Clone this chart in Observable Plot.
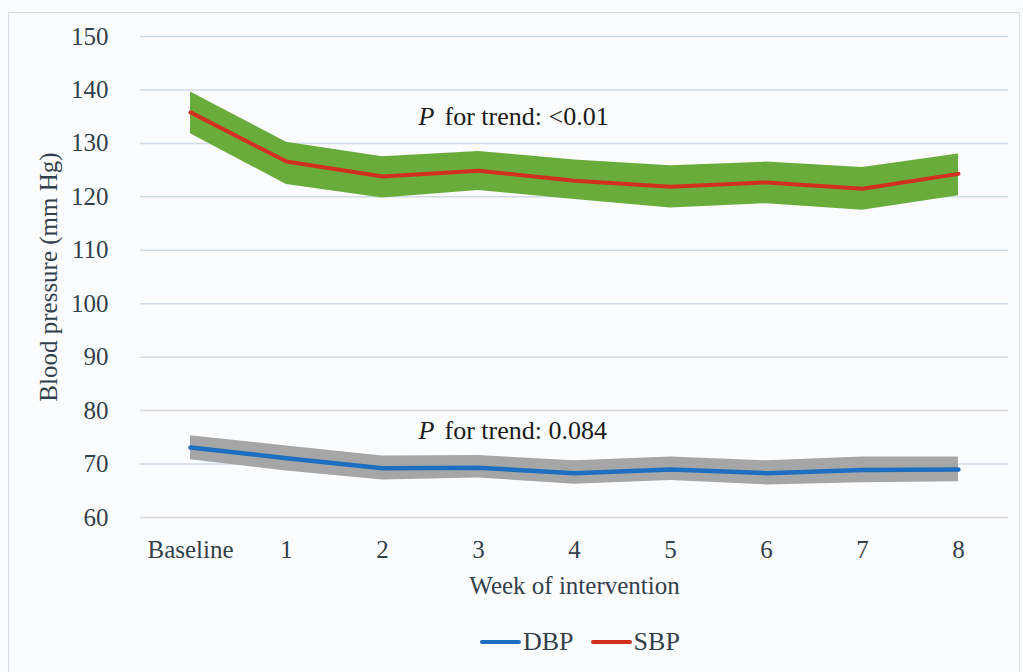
<!DOCTYPE html>
<html>
<head>
<meta charset="utf-8">
<script src="https://cdn.jsdelivr.net/npm/d3@7"></script>
<script src="https://cdn.jsdelivr.net/npm/@observablehq/plot@0.6"></script>
<style>
  html, body { margin: 0; padding: 0; background: #fbfcfe; width: 1023px; height: 672px; overflow: hidden; }
  #frame { position: absolute; left: 8px; top: 12px; width: 1012px; height: 670px; border: 1.5px solid #d4dde7; box-sizing: border-box; }
  #chart { position: absolute; left: 0; top: 0; }
  #legend { position: absolute; left: 480px; top: 627px; display: flex; align-items: center; font-family: "Liberation Serif", "Times New Roman", serif; font-size: 26px; color: #333f4a; }
  #legend .sw { display: inline-block; width: 41px; height: 4px; border-radius: 2px; margin-right: 2px; }
  #legend .item { display: flex; align-items: center; margin-right: 17px; }
</style>
</head>
<body>
<div id="frame"></div>
<div id="chart"></div>
<div id="legend"></div>
<script>
const weeks = ["Baseline", "1", "2", "3", "4", "5", "6", "7", "8"];
const sbpMean  = [135.8, 126.6, 123.8, 124.9, 123.0, 121.9, 122.7, 121.5, 124.3];
const sbpUpper = [139.6, 130.2, 127.5, 128.5, 126.9, 125.8, 126.5, 125.5, 128.0];
const sbpLower = [131.8, 122.3, 119.8, 121.2, 119.5, 117.9, 118.7, 117.5, 120.2];
const dbpMean  = [73.1, 71.1, 69.2, 69.3, 68.3, 69.0, 68.3, 68.9, 69.0];
const dbpUpper = [75.3, 73.4, 71.5, 71.6, 70.6, 71.3, 70.6, 71.3, 71.3];
const dbpLower = [70.8, 68.7, 67.0, 67.4, 66.2, 66.9, 66.1, 66.5, 66.7];
const yTicks = [60, 70, 80, 90, 100, 110, 120, 130, 140, 150];
const seriesNames = ["DBP", "SBP"];
const seriesColors = ["#1f6fc1", "#d2301f"];
const bandColors = ["#a6a6a6", "#6aac3c"];
const annotations = [
  {week: "3", y: 135.0, text: "for trend: <0.01"},
  {week: "3", y: 76.2, text: "for trend: 0.084"}
];

const sbp = weeks.map((w, i) => ({week: w, mean: sbpMean[i], lo: sbpLower[i], hi: sbpUpper[i]}));
const dbp = weeks.map((w, i) => ({week: w, mean: dbpMean[i], lo: dbpLower[i], hi: dbpUpper[i]}));

const font = "'Liberation Serif', 'Times New Roman', serif";
const textColor = "#333f4a";

const chart = Plot.plot({
  width: 1023,
  height: 612,
  marginLeft: 140,
  marginRight: 15,
  marginTop: 36,
  marginBottom: 95,
  style: {background: "transparent", fontFamily: font, fontSize: "25px", color: textColor},
  x: {type: "point", domain: weeks, padding: 0.5, label: null},
  y: {domain: [60, 150], label: null},
  marks: [
    Plot.gridY(yTicks, {stroke: "#cfdbe6", strokeOpacity: 1, strokeWidth: 1.5}),
    Plot.axisY(yTicks, {tickSize: 0, tickPadding: 32, label: null, fontSize: 25, fill: textColor, fontFamily: font}),
    Plot.axisX({tickSize: 0, tickPadding: 23, label: null, fontSize: 25, fill: textColor, fontFamily: font}),
    Plot.areaY(sbp, {x: "week", y1: "lo", y2: "hi", fill: bandColors[1], fillOpacity: 1}),
    Plot.lineY(sbp, {x: "week", y: "mean", stroke: seriesColors[1], strokeWidth: 4}),
    Plot.areaY(dbp, {x: "week", y1: "lo", y2: "hi", fill: bandColors[0], fillOpacity: 1}),
    Plot.lineY(dbp, {x: "week", y: "mean", stroke: seriesColors[0], strokeWidth: 4.5}),
    Plot.text(annotations, {x: "week", y: "y", text: () => "P", dx: -60, textAnchor: "start", fontStyle: "italic", fontSize: 26, fill: "#1a1a1a", fontFamily: font}),
    Plot.text(annotations, {x: "week", y: "y", text: "text", dx: -34, textAnchor: "start", fontSize: 26, fill: "#1a1a1a", fontFamily: font}),
    Plot.text(["Blood pressure (mm Hg)"], {frameAnchor: "left", dx: -92, rotate: -90, textAnchor: "middle", fontSize: 25, fill: textColor, fontFamily: font}),
    Plot.text(["Week of intervention"], {frameAnchor: "bottom", dy: 76, textAnchor: "middle", fontSize: 25, fill: textColor, fontFamily: font})
  ]
});
document.getElementById("chart").appendChild(chart);

const legend = document.getElementById("legend");
seriesNames.forEach((name, i) => {
  const item = document.createElement("span");
  item.className = "item";
  const sw = document.createElement("span");
  sw.className = "sw";
  sw.style.background = seriesColors[i];
  item.appendChild(sw);
  item.appendChild(document.createTextNode(name));
  legend.appendChild(item);
});
</script>
</body>
</html>
